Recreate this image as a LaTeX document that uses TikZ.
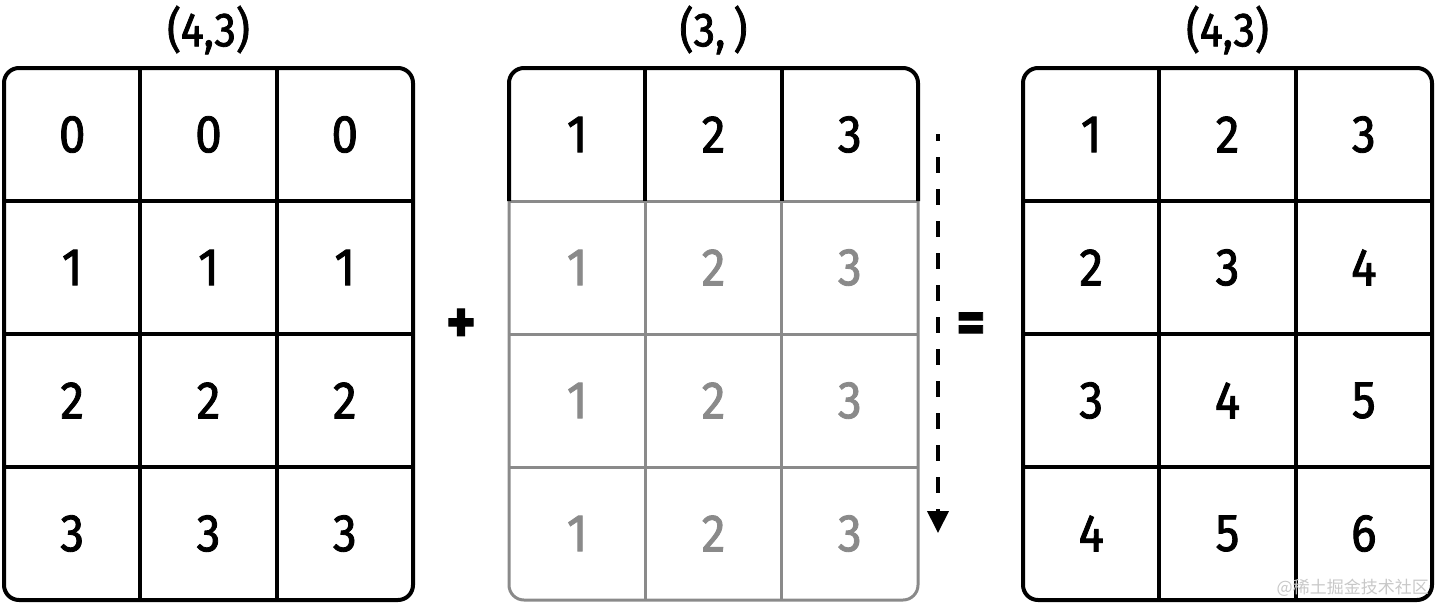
\documentclass[tikz,border=0pt]{standalone}
\usepackage{fontspec}
\setmainfont{Fira Sans}[FakeStretch=0.9, FakeBold=1.6]
\newfontfamily\cjk{Noto Sans CJK SC}
\usetikzlibrary{positioning, calc, arrows.meta}
\definecolor{grigio}{HTML}{8A8A8A}
\definecolor{filigrana}{HTML}{C8C8C8}
\tikzset{
  cella/.style={font=\fontsize{53}{53}\selectfont, inner sep=0pt},
  titolo/.style={font=\fontsize{48}{48}\selectfont, inner sep=0pt},
  segno/.style={font=\bfseries\fontsize{62}{62}\selectfont, inner sep=0pt},
  griglia/.style={line width=4pt, rounded corners=15pt},
  bordo/.style={line width=4pt},
}

\begin{document}
\begin{tikzpicture}[x=1pt,y=-1pt]
        \useasboundingbox (0,0) rectangle (1436,603);

        %griglia sinistra (4,3)
        \draw[griglia] (4,68) rectangle (413,600);
        \foreach \x in {140.3,276.7} \draw[bordo] (\x,68) -- (\x,600);
        \foreach \y in {201,334,467} \draw[bordo] (4,\y) -- (413,\y);

        %griglia centrale: riga vera in nero, righe ripetute in grigio
        \draw[griglia, line width=3pt, grigio] (509,201) -- (918,201);
        \draw[griglia, line width=3pt, grigio] (918,201) -- (918,600) -- (509,600) -- (509,201);
        \foreach \x in {645.3,781.7} \draw[bordo, line width=3pt, grigio] (\x,201) -- (\x,600);
        \foreach \y in {334,467} \draw[bordo, line width=3pt, grigio] (509,\y) -- (918,\y);
        \draw[griglia] (509,201) -- (509,68) -- (918,68) -- (918,201);
        \foreach \x in {645.3,781.7} \draw[bordo] (\x,68) -- (\x,201);

        %griglia destra (4,3)
        \draw[griglia] (1023,68) rectangle (1432,600);
        \foreach \x in {1159.3,1295.7} \draw[bordo] (\x,68) -- (\x,600);
        \foreach \y in {201,334,467} \draw[bordo] (1023,\y) -- (1432,\y);

        %valori nelle celle
        \foreach \r in {0,...,3} {
          \foreach \c in {0,1,2} {
            \pgfmathtruncatemacro\somma{\r+\c+1}
            \pgfmathtruncatemacro\riga{\c+1}
            \node[cella] (a-\r-\c) at ({72.2+136.3*\c},{134.5+133*\r}) {\r};
            \ifnum\r=0
              \node[cella] (b-\r-\c) at ({577.2+136.3*\c},{134.5+133*\r}) {\riga};
            \else
              \node[cella, text=grigio] (b-\r-\c) at ({577.2+136.3*\c},{134.5+133*\r}) {\riga};
            \fi
            \node[cella] (c-\r-\c) at ({1091.2+136.3*\c},{134.5+133*\r}) {\somma};
          }
        }

        %titoli con le forme
        \node[titolo] (tA) at (208.5,30) {(4,3)};
        \node[titolo] (tB) at (713.5,30) {(3,\,)};
        \node[titolo] (tC) at (1227.5,30) {(4,3)};

        %segni + e =
        \node[segno] (piu) at (461,326) {+};
        \node[segno] (uguale) at (971,328) {=};

        %freccia di broadcasting
        \coordinate (inizio) at (938,134);
        \coordinate (fine) at (938,533);
        \draw[line width=4pt, dash pattern=on 16pt off 16pt, dash phase=9pt,
              -{Triangle[width=21pt,length=22pt]}] (inizio) -- (fine);

        %filigrana
        \node[anchor=east, text=filigrana, font=\cjk\fontsize{17}{17}\selectfont, inner sep=0pt]
          (wm) at (1429,588) {@稀土掘金技术社区};
\end{tikzpicture}
\end{document}
